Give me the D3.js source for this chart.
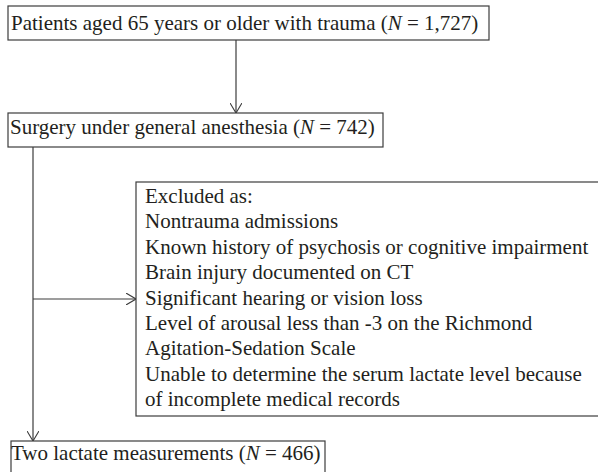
<!DOCTYPE html>
<html>
<head>
<meta charset="utf-8">
<script src="https://cdn.jsdelivr.net/npm/d3@7"></script>
<style>
  html, body { margin: 0; padding: 0; background: #fff; }
  svg { display: block; }
</style>
</head>
<body>
<svg id="chart" width="598" height="472" viewBox="0 0 598 472"></svg>
<script>
// Flow chart text: each box is a list of lines, each line a list of [text, italic] runs
const topBox = [[["Patients aged 65 years or older with trauma (", false], ["N", true], [" = 1,727)", false]]];
const surgeryBox = [[["Surgery under general anesthesia (", false], ["N", true], [" = 742)", false]]];
const excludedLines = [
  "Excluded as:",
  "Nontrauma admissions",
  "Known history of psychosis or cognitive impairment",
  "Brain injury documented on CT",
  "Significant hearing or vision loss",
  "Level of arousal less than -3 on the Richmond",
  "Agitation-Sedation Scale",
  "Unable to determine the serum lactate level because",
  "of incomplete medical records"
];
const finalBox = [[["Two lactate measurements (", false], ["N", true], [" = 466)", false]]];

const svg = d3.select("#chart");
const font = "'Liberation Serif', 'Times New Roman', serif";
const fontSize = 21;
const lineH = 25.4;
const textColor = "#231f20";
const lineColor = "#3c3c3c";

// arrowhead (open chevron)
svg.append("defs").append("marker")
    .attr("id", "chev")
    .attr("viewBox", "0 -6 10 12").attr("refX", 10).attr("refY", 0)
    .attr("markerWidth", 10).attr("markerHeight", 12)
    .attr("markerUnits", "userSpaceOnUse")
    .attr("orient", "auto")
    .append("path").attr("d", "M0,-6L10,0L0,6")
    .attr("fill", "none").attr("stroke", lineColor).attr("stroke-width", 1.1);

function drawBox(b, lines, tx, baseline) {
    svg.append("rect")
        .attr("x", b.x).attr("y", b.y).attr("width", b.w).attr("height", b.h)
        .style("fill", "#fff").style("stroke", lineColor).style("stroke-width", 1.2);
    const t = svg.append("text")
        .attr("font-family", font).attr("font-size", fontSize)
        .attr("fill", textColor);
    lines.forEach((runs, i) => {
        runs = typeof runs === "string" ? [[runs, false]] : runs;
        runs.forEach((r, j) => {
            const s = t.append("tspan").text(r[0]);
            if (j === 0) s.attr("x", tx).attr("y", baseline + i * lineH);
            if (r[1]) s.attr("font-style", "italic");
        });
    });
}

function arrow(points, head) {
    const p = svg.append("path")
        .attr("d", d3.line()(points))
        .attr("fill", "none").attr("stroke", lineColor).attr("stroke-width", 1.2);
    if (head) p.attr("marker-end", "url(#chev)");
}

const b1 = { x: 8, y: 6, w: 481, h: 34 };
const b2 = { x: 8, y: 113, w: 375, h: 34 };
const b3 = { x: 136, y: 182, w: 470, h: 234 };
const b4 = { x: 11, y: 441, w: 314, h: 40 };
const trunkX = 33;
const branchY = 299;

// connectors
arrow([[236, b1.y + b1.h], [236, b2.y]], true);
arrow([[trunkX, b2.y + b2.h], [trunkX, b4.y]], true);
arrow([[trunkX, branchY], [b3.x, branchY]], true);

drawBox(b1, topBox, 11, 30);
drawBox(b2, surgeryBox, 10, 134);
drawBox(b3, excludedLines, 145, 203);
drawBox(b4, finalBox, 11, 460);
</script>
</body>
</html>
